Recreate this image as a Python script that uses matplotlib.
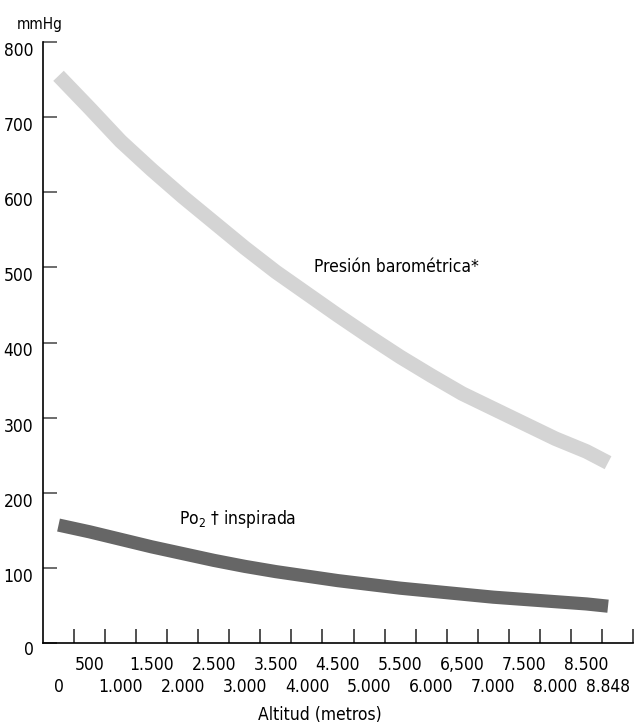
import matplotlib
matplotlib.use('Agg')
import matplotlib.pyplot as plt
import numpy as np

# the reference uses a condensed face; ask for the condensed DejaVu cut
plt.rcParams['font.family'] = ['DejaVu Sans']
plt.rcParams['font.stretch'] = 'condensed'

# altitude (m) and pressures
altitud = [0, 500, 1000, 1500, 2000, 2500, 3000, 3500, 4000, 4500,
           5000, 5500, 6000, 6500, 7000, 7500, 8000, 8500, 8848]
presion_barometrica = [755, 712, 668, 630, 594, 560, 526, 494, 465, 436,
                       408, 381, 356, 332, 312, 292, 272, 255, 240]
po2_inspirada = [157, 148, 138, 128, 119, 110, 102, 95, 89, 83,
                 78, 73, 69, 65, 61, 58, 55, 52, 49]

# x labels come in two rows
fila_sup_pos = [500, 1500, 2500, 3500, 4500, 5500, 6500, 7500, 8500]
fila_sup_txt = ['500', '1.500', '2.500', '3.500', '4.500', '5.500', '6,500',
                '7.500', '8.500']
fila_inf_pos = [0, 1000, 2000, 3000, 4000, 5000, 6000, 7000, 8000, 8848]
fila_inf_txt = ['0', '1.000', '2.000', '3.000', '4.000', '5.000', '6.000',
                '7.000', '8.000', '8.848']
y_ticks = [0, 100, 200, 300, 400, 500, 600, 700, 800]

fig = plt.figure(figsize=(6.39, 7.24), dpi=100)
ax = fig.add_axes([43/639, 81/724, 590/639, 601/724])

ax.plot(altitud, presion_barometrica, color='#d4d4d4', lw=10.5,
        solid_capstyle='butt', zorder=2)
ax.plot(altitud, po2_inspirada, color='#666666', lw=9.5,
        solid_capstyle='butt', zorder=3)

ax.set_xlim(-250, 9250)
ax.set_ylim(0, 800)

for s in ['top', 'right']:
    ax.spines[s].set_visible(False)
for s in ['left', 'bottom']:
    ax.spines[s].set_linewidth(1.2)
    ax.spines[s].set_color('black')

# y axis: marks pointing in, labels hanging below the mark
ax.set_yticks(y_ticks)
ax.set_yticklabels([''] + [str(v) for v in y_ticks[1:]])
ax.tick_params(axis='y', direction='in', length=10, width=1.1,
               color='#444444', labelsize=12.5, pad=7)
for lab in ax.get_yticklabels():
    lab.set_verticalalignment('top')
ax.text(-0.024, -0.012, '0', transform=ax.transAxes, ha='center', va='center',
        fontsize=12.5)

# x axis: marks sit between the labelled altitudes
ax.set_xticks(np.arange(250, 9251, 500))
ax.tick_params(axis='x', which='major', direction='in', length=10, width=1.1,
               color='#222222', labelbottom=False)
ax.set_xticks(fila_sup_pos, minor=True)
ax.set_xticklabels(fila_sup_txt, minor=True)
ax.tick_params(axis='x', which='minor', length=0, pad=9, labelsize=12.5)

sec = ax.secondary_xaxis('bottom')
sec.spines['bottom'].set_visible(False)
sec.set_xticks(fila_inf_pos)
sec.set_xticklabels(fila_inf_txt)
sec.tick_params(axis='x', length=0, pad=25, labelsize=12.5)

ax.text(4106, 501, 'Presión barométrica*', fontsize=12.5, ha='left', va='center')
ax.text(1932, 165, 'Po$_2$ † inspirada', fontsize=12.5, ha='left', va='center')

fig.text(40/639, 1 - 25/724, 'mmHg', fontsize=11, ha='center', va='center')
fig.text(320/639, 1 - 715/724, 'Altitud (metros)', fontsize=12.5,
         ha='center', va='center')

fig.savefig('out.png', dpi=100)
